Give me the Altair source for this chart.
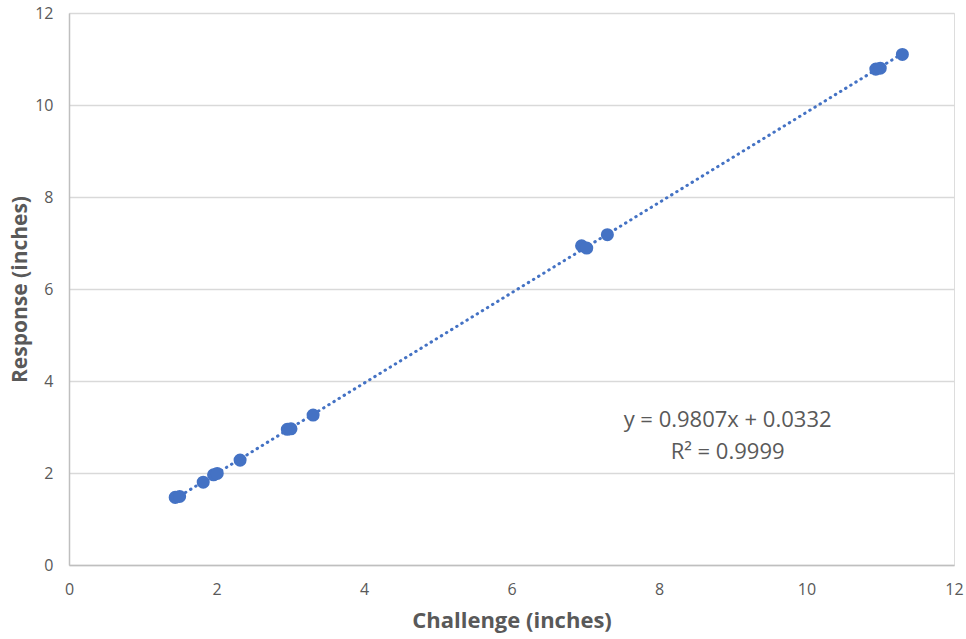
import altair as alt
import pandas as pd

challenge = [1.44, 1.50, 1.82, 1.96, 2.01, 2.32, 2.96, 3.01, 3.31, 6.95, 7.02, 7.30, 10.94, 11.00, 11.30]
response = [1.47, 1.49, 1.80, 1.96, 1.99, 2.28, 2.95, 2.96, 3.26, 6.94, 6.89, 7.18, 10.78, 10.80, 11.10]

eq_text = ["y = 0.9807x + 0.0332", "R² = 0.9999"]
eq_x = [8.93, 8.93]
eq_y = [3.15, 2.46]

df = pd.DataFrame({"Challenge": challenge, "Response": response})
ann = pd.DataFrame({"t": eq_text, "x": eq_x, "y": eq_y})

xs = alt.Scale(domain=[0, 12], nice=False, zero=True)
ys = alt.Scale(domain=[0, 12], nice=False, zero=True)

x_axis = alt.Axis(title="Challenge (inches)", values=list(range(0, 13, 2)), format="d", grid=False,
                  ticks=False, domainColor="#bfbfbf", domainWidth=1.5, labelFlush=False,
                  labelFont="Open Sans", labelFontSize=16, labelColor="#595959", labelPadding=16,
                  titleFont="Open Sans", titleFontSize=22, titleFontWeight="bold",
                  titleColor="#595959", titlePadding=13)
y_axis = alt.Axis(title="Response (inches)", values=list(range(0, 13, 2)), format="d", grid=True,
                  gridColor="#d9d9d9", gridWidth=1.5, labelFlush=False,
                  ticks=False, domainColor="#bfbfbf", domainWidth=1.5,
                  labelFont="Open Sans", labelFontSize=16, labelColor="#595959", labelPadding=16,
                  titleFont="Open Sans", titleFontSize=21, titleFontWeight="bold",
                  titleColor="#595959", titlePadding=4)

base = alt.Chart(df)

trend = base.transform_regression("Challenge", "Response").mark_line(
    color="#4472C4", strokeWidth=3, strokeDash=[0.5, 5.5], strokeCap="round"
).encode(
    x=alt.X("Challenge:Q", scale=xs, axis=x_axis),
    y=alt.Y("Response:Q", scale=ys, axis=y_axis),
)

pts = base.mark_circle(size=170, color="#4472C4", opacity=1).encode(
    x=alt.X("Challenge:Q", scale=xs),
    y=alt.Y("Response:Q", scale=ys),
)

txt = alt.Chart(ann).mark_text(font="Open Sans", fontSize=22, color="#595959", align="center").encode(
    x=alt.X("x:Q", scale=xs),
    y=alt.Y("y:Q", scale=ys),
    text="t:N",
)

chart = alt.layer(trend, pts, txt).properties(
    width=885, height=552,
    autosize=alt.AutoSizeParams(type="none"),
    padding={"left": 69, "top": 13, "right": 12, "bottom": 74},
).configure_view(stroke=None).configure(background="white")

chart.save("out.html", embed_options={"renderer": "svg", "actions": False})
